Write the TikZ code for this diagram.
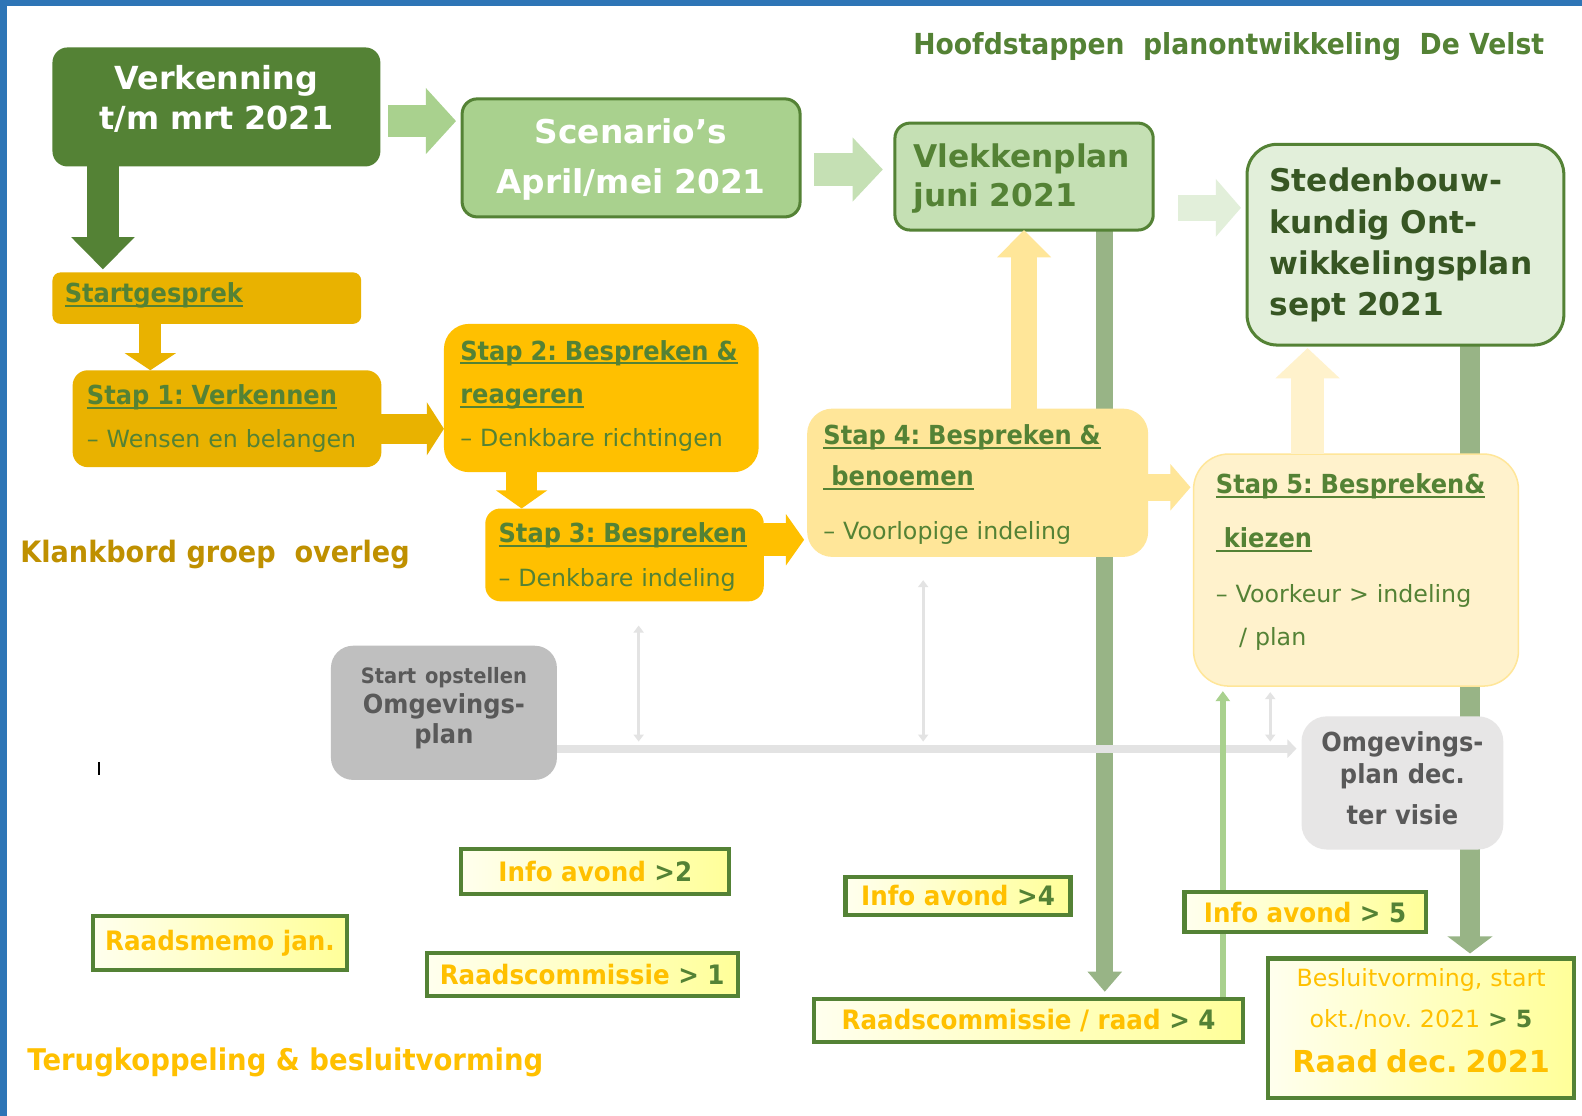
\documentclass[tikz,border=0pt]{standalone}
\usepackage{fontspec}
\setmainfont{DejaVu Sans}
\newfontfamily\tah{DejaVu Sans}[FakeStretch=0.92]
\usetikzlibrary{arrows.meta}

\definecolor{dkgreen}{HTML}{548235}
\definecolor{midgreen}{HTML}{A9D18E}
\definecolor{ltgreen}{HTML}{C5E0B4}
\definecolor{palegreen}{HTML}{E2EFDA}
\definecolor{deepgreen}{HTML}{375623}
\definecolor{gold}{HTML}{E9B200}
\definecolor{amber}{HTML}{FFC000}
\definecolor{sand}{HTML}{FFE699}
\definecolor{cream}{HTML}{FFF2CC}
\definecolor{sage}{HTML}{98B486}
\definecolor{ochre}{HTML}{BF9000}
\definecolor{greyfill}{HTML}{BFBFBF}
\definecolor{lightgrey}{HTML}{E7E6E6}
\definecolor{greytext}{HTML}{595959}
\definecolor{linegrey}{HTML}{E3E3E3}
\definecolor{frameblue}{HTML}{2E75B6}
\definecolor{memoyellow}{HTML}{FFFF99}
\definecolor{memolight}{HTML}{FFFFEE}

\pgfdeclarelayer{bg}
\pgfsetlayers{bg,main}

\newcommand\ulin[1]{\leavevmode\setbox0\hbox{#1}\rlap{\rule[-0.16em]{\wd0}{0.075em}}\box0}
\newcommand\hd[1]{{\tah\bfseries\fontsize{26}{43}\selectfont#1}}
\newcommand\gtn[1]{{\color{dkgreen}#1}}

\begin{document}
\frenchspacing
\begin{tikzpicture}[x=1pt,y=-1pt,
    box/.style={inner sep=0pt, outer sep=0pt},
    txt/.style={inner sep=0pt, anchor=base west, align=left, text width=#1},
    ctxt/.style={inner sep=0pt, anchor=base, align=center, text width=#1},
    memo/.style={draw=dkgreen, line width=4pt, left color=memolight, right color=memoyellow,
                 inner sep=0pt, text=amber, font=\tah\bfseries\fontsize{26.5}{30}\selectfont},
    fat/.style n args={3}{line width=#1pt, -{Triangle[width=#2pt,length=#3pt]}},
    dbl/.style={line width=3pt, linegrey,
                {Triangle[width=10pt,length=7pt]}-{Triangle[width=10pt,length=7pt]}}]

  \useasboundingbox (0,0) rectangle (1568,1106);

  % main phases
  \node[box, fill=dkgreen, rounded corners=15pt, minimum width=325pt, minimum height=118pt] (verk) at (214.5,106) {};
  \node[box, fill=midgreen, draw=dkgreen, line width=3pt, rounded corners=15pt, minimum width=335pt, minimum height=117pt] (scen) at (625.5,156.5) {};
  \node[box, fill=ltgreen, draw=dkgreen, line width=3pt, rounded corners=15pt, minimum width=256pt, minimum height=106pt] (vlek) at (1015,175) {};
  \node[box, fill=palegreen, draw=dkgreen, line width=3pt, rounded corners=30pt, minimum width=314pt, minimum height=199pt] (sted) at (1393,242.5) {};

  \node[ctxt=325pt, text=white, font=\bfseries\fontsize{31.5}{39}\selectfont] (verkt) at ([shift={(0,42)}]verk.north) {Verkenning\\t/m mrt 2021};
  \node[ctxt=335pt, text=white, font=\bfseries\fontsize{32.5}{50}\selectfont] (scent) at ([shift={(0,44)}]scen.north) {Scenario’s\\April/mei 2021};
  \node[txt=300pt, text=dkgreen, font=\bfseries\fontsize{31}{39}\selectfont] (vlekt) at ([shift={(18,44)}]vlek.north west) {Vlekkenplan\\juni 2021};
  \node[txt=300pt, text=deepgreen, font=\bfseries\fontsize{31}{41}\selectfont] (stedt) at ([shift={(22,47)}]sted.north west) {Stedenbouw-\\kundig Ont-\\wikkelingsplan\\sept 2021};

  % klankbord steps
  \node[box, fill=gold, rounded corners=8pt, minimum width=306pt, minimum height=51pt] (startg) at (205,295.5) {};
  \node[box, fill=gold, rounded corners=15pt, minimum width=306pt, minimum height=96pt] (s1) at (225,415) {};
  \node[box, fill=amber, rounded corners=25pt, minimum width=312pt, minimum height=147pt] (s2) at (596,394.5) {};
  \node[box, fill=amber, rounded corners=15pt, minimum width=276pt, minimum height=92pt] (s3) at (619,550) {};
  \node[box, fill=sand, rounded corners=25pt, minimum width=338pt, minimum height=147pt] (s4) at (969,478.5) {};
  \node[box, fill=cream, draw=sand, line width=1.5pt, rounded corners=35pt, minimum width=322pt, minimum height=230pt] (s5) at (1344,565) {};

  \node[txt=400pt, text=dkgreen, font=\fontsize{23.5}{43}\selectfont] (startgt) at ([shift={(12,30)}]startg.north west) {\hd{\ulin{Startgesprek}}};
  \node[txt=400pt, text=dkgreen, font=\fontsize{23.5}{43}\selectfont] (s1t) at ([shift={(14,34)}]s1.north west)
    {\hd{\ulin{Stap 1: Verkennen}}\\– Wensen en belangen};
  \node[txt=400pt, text=dkgreen, font=\fontsize{23.5}{43}\selectfont] (s2t) at ([shift={(16,36)}]s2.north west)
    {\hd{\ulin{Stap 2: Bespreken \&}}\\\hd{\ulin{reageren}}\\– Denkbare richtingen};
  \node[txt=400pt, text=dkgreen, font=\fontsize{23.5}{43}\selectfont] (s3t) at ([shift={(13,34)}]s3.north west)
    {\hd{\ulin{Stap 3: Bespreken}}\\– Denkbare indeling};
  \node[txt=400pt, text=dkgreen, font=\fontsize{23.5}{43}\selectfont] (s4t) at ([shift={(16,36)}]s4.north west)
    {\hd{\ulin{Stap 4: Bespreken \&}}\\[-3pt]\hd{\ulin{\ benoemen}}\\[11pt]– Voorlopige indeling};
  \node[txt=400pt, text=dkgreen, font=\fontsize{23.5}{43}\selectfont] (s5t) at ([shift={(22,39)}]s5.north west)
    {\hd{\ulin{Stap 5: Bespreken\&}}\\[11pt]\hd{\ulin{\ kiezen}}\\[11pt]– Voorkeur > indeling\\\hspace*{23pt}/ plan};

  % omgevingsplan
  \node[box, fill=greyfill, rounded corners=22pt, minimum width=224pt, minimum height=133pt] (startop) at (440,706.5) {};
  \node[box, fill=lightgrey, rounded corners=25pt, minimum width=200pt, minimum height=132pt] (omgdec) at (1390,776) {};
  \node[ctxt=224pt, text=greytext, font=\tah\bfseries\fontsize{26}{30}\selectfont] (startopt) at ([shift={(0,37)}]startop.north)
    {{\fontsize{21}{29}\selectfont Start opstellen}\\Omgevings-\\plan};
  \node[ctxt=200pt, text=greytext, font=\tah\bfseries\fontsize{26}{32}\selectfont] (omgdect) at ([shift={(0,35)}]omgdec.north)
    {Omgevings-\\plan dec.\\[8pt]ter visie};

  % raad
  \node[memo, minimum width=266pt, minimum height=45pt] (info2) at (590,863.5) {Info avond \gtn{>2}};
  \node[memo, minimum width=252pt, minimum height=53pt] (memo1) at (218,934.5) {Raadsmemo jan.};
  \node[memo, minimum width=308pt, minimum height=42pt] (rc1) at (577,966) {Raadscommissie \gtn{> 1}};
  \node[memo, minimum width=223pt, minimum height=38pt] (info4) at (949.5,888) {Info avond \gtn{>4}};
  \node[memo, minimum width=239pt, minimum height=40pt] (info5) at (1293.5,904) {Info avond \gtn{> 5}};
  \node[memo, minimum width=425pt, minimum height=43pt] (rc4) at (1019.5,1011.5) {Raadscommissie / raad \gtn{> 4}};
  \node[memo, minimum width=303pt, minimum height=138pt] (raad) at (1408.5,1019) {};
  \node[ctxt=303pt, text=amber, font=\fontsize{23.5}{40}\selectfont] (raadt) at ([shift={(0,30)}]raad.north)
    {Besluitvorming, start\\okt./nov. 2021 \gtn{\bfseries > 5}\\[5pt]{\bfseries\fontsize{30}{45}\selectfont Raad dec. 2021}};

  % headings
  \node[inner sep=0pt, anchor=base west, text=dkgreen, font=\tah\bfseries\fontsize{28.7}{34}\selectfont] (title) at (905,54.5) {Hoofdstappen~ planontwikkeling~ De Velst};
  \node[inner sep=0pt, anchor=base west, text=ochre, font=\tah\bfseries\fontsize{29.2}{34}\selectfont] (klank) at (20,558) {Klankbord groep~ overleg};
  \node[inner sep=0pt, anchor=base west, text=amber, font=\tah\bfseries\fontsize{29.6}{34}\selectfont] (terug) at (27,1061) {Terugkoppeling \& besluitvorming};

  % frame
  \fill[frameblue] (0,0) rectangle (1568,6);
  \fill[frameblue] (0,0) rectangle (7,1106);
  \draw[line width=2pt] (98,755) -- (98,768);

  % block arrows
  \draw[fat={32}{61}{32}, dkgreen, shorten >=3pt] ([xshift=50pt]verk.south west) -- ([xshift=50pt]startg.north west);
  \coordinate (a2) at ([shift={(8,14)}]verk.east);
  \draw[fat={32}{64}{30}, midgreen, shorten >=6pt] (a2) -- (a2 -| scen.west);
  \coordinate (a3) at ([shift={(14,11.5)}]scen.east);
  \draw[fat={33}{62}{30}, ltgreen, shorten >=12pt] (a3) -- (a3 -| vlek.west);
  \coordinate (a4) at ([shift={(25,31)}]vlek.east);
  \draw[fat={26}{56}{25}, palegreen, shorten >=6pt] (a4) -- (a4 -| sted.west);
  \draw[fat={22}{50}{17}, gold] ([xshift=97pt]startg.south west) -- ([xshift=77pt]s1.north west);
  \coordinate (a6) at ([shift={(0,10)}]s1.east);
  \draw[fat={30}{52}{17}, gold] (a6) -- (a6 -| s2.west);
  \coordinate (a7) at ([shift={(-79,0)}]s2.south);
  \draw[fat={30}{50}{18}, amber] (a7) -- (a7 |- s3.north);
  \coordinate (a8) at ([shift={(0,-15)}]s3.east);
  \draw[fat={33}{50}{18}, amber, shorten >=3pt] (a8) -- (a8 -| s4.west);
  \coordinate (a9) at ([shift={(46,0)}]s4.north);
  \draw[fat={26}{52}{27}, sand] (a9) -- (a9 |- vlek.south);
  \coordinate (a10) at ([shift={(0,4.5)}]s4.east);
  \draw[fat={27}{45}{20}, sand, shorten >=3pt] (a10) -- (a10 -| s5.west);
  \coordinate (a11) at ([shift={(-48,0)}]s5.north);
  \draw[fat={32}{62}{30}, cream, shorten >=3pt] (a11) -- (a11 |- sted.south);

  % lines behind the boxes
  \begin{pgfonlayer}{bg}
    \fill[white] (0,0) rectangle (1568,1106);
    \coordinate (a12) at ([shift={(80,0)}]vlek.south);
    \draw[fat={17}{33}{20}, sage, shorten >=5pt] (a12) -- (a12 |- rc4.north);
    \coordinate (a13) at ([shift={(64,0)}]sted.south);
    \draw[fat={19}{44}{17}, sage, shorten >=3pt] (a13) -- (a13 |- raad.north);
    \coordinate (a15) at ([shift={(0,35.5)}]startop.east);
    \draw[fat={8}{18}{9}, linegrey, shorten >=5pt] (a15) -- (a15 -| omgdec.west);
    \coordinate (g1) at ([shift={(81,0)}]a15);
    \coordinate (g2) at ([shift={(363,0)}]a15);
    \coordinate (g3) at ([shift={(707,0)}]a15);
    \draw[dbl, shorten <=24pt, shorten >=7pt] (g1 |- s3.south) -- (g1);
    \draw[dbl, shorten <=23pt, shorten >=7pt] (g2 |- s4.south) -- (g2);
    \draw[dbl, shorten <=6pt, shorten >=7pt] (g3 |- s5.south) -- (g3);
    \coordinate (a14) at ([shift={(192.5,0)}]rc4.north);
    \draw[line width=6pt, midgreen, -{Triangle[width=14pt,length=10pt]}, shorten >=5pt] (a14) -- (a14 |- s5.south);
  \end{pgfonlayer}
\end{tikzpicture}
\end{document}
